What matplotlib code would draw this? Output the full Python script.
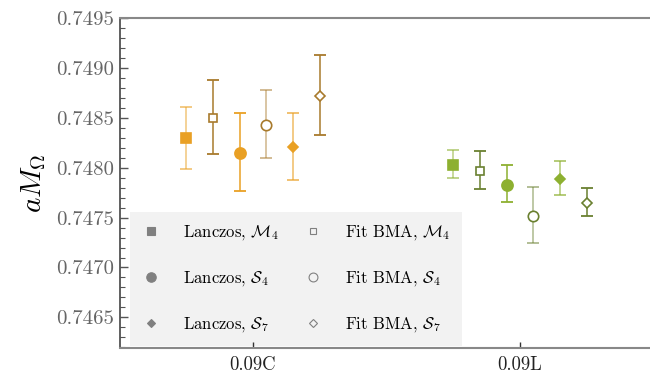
import matplotlib.pyplot as plt
import numpy as np

plt.rcParams['font.family'] = 'serif'
plt.rcParams['font.serif'] = ['cmr10']
plt.rcParams['mathtext.fontset'] = 'cm'
plt.rcParams['axes.formatter.use_mathtext'] = True

# ensembles and methods
ensembles = ['0.09C', '0.09L']
labels = [r'Lanczos, $\mathcal{M}_4$', r'Fit BMA, $\mathcal{M}_4$',
          r'Lanczos, $\mathcal{S}_4$', r'Fit BMA, $\mathcal{S}_4$',
          r'Lanczos, $\mathcal{S}_7$', r'Fit BMA, $\mathcal{S}_7$']

# central values, upper and lower ends of the error bars (per ensemble, per method)
val_C = [0.74830, 0.74850, 0.74815, 0.74843, 0.74821, 0.74872]
hi_C = [0.74861, 0.74888, 0.74855, 0.74878, 0.74855, 0.74913]
lo_C = [0.74799, 0.74814, 0.74777, 0.74810, 0.74788, 0.74833]

val_L = [0.74803, 0.74797, 0.74783, 0.74752, 0.74789, 0.74765]
hi_L = [0.74818, 0.74817, 0.74803, 0.74781, 0.74807, 0.74780]
lo_L = [0.74790, 0.74779, 0.74766, 0.74725, 0.74773, 0.74752]

values = [val_C, val_L]
uppers = [hi_C, hi_L]
lowers = [lo_C, lo_L]

markers = ['s', 's', 'o', 'o', 'D', 'D']
msizes = [6.5, 5.8, 8, 7.5, 5, 5]
filled = [True, False, True, False, True, False]
colors = [['#e9a024', '#a87a2c'], ['#8db030', '#6a8030']]
bar_alpha = [0.6, 1.0, 1.0, 0.55, 0.7, 1.0]

fig = plt.figure(figsize=(6.5, 3.77), dpi=100)
ax = fig.add_axes([0.1846, 0.0765, 0.8154, 0.8745])

offsets = (np.arange(6) - 2.5) * 0.1
for g in range(len(ensembles)):
    for i in range(6):
        c = colors[g][i % 2]
        x = g + offsets[i]
        v = values[g][i]
        yerr = [[v - lowers[g][i]], [uppers[g][i] - v]]
        ax.errorbar([x], [v], yerr=yerr, fmt='none', ecolor=c,
                    elinewidth=1.1, capsize=4.3, capthick=1.3,
                    alpha=bar_alpha[i], zorder=2)
        ax.plot([x], [v], marker=markers[i], ms=msizes[i], linestyle='none',
                color=c, mfc=c if filled[i] else 'white', mec=c,
                mew=1.2, zorder=3)

# legend with grey markers
handles = []
for i in range(6):
    h, = ax.plot([], [], marker=markers[i], linestyle='none',
                 ms=msizes[i] * 0.85, color='#808080',
                 mfc='#808080' if filled[i] else 'none', mec='#808080',
                 mew=0.8)
    handles.append(h)
order = [0, 2, 4, 1, 3, 5]
leg = ax.legend([handles[k] for k in order], [labels[k] for k in order],
                ncol=2, loc='lower left', bbox_to_anchor=(0.015, 0.0),
                borderaxespad=0.15,
                fontsize=12, frameon=True, facecolor='#f2f2f2',
                edgecolor='none', framealpha=1, fancybox=False,
                labelspacing=1.62, columnspacing=1.5, handletextpad=1.35,
                borderpad=0.7, handlelength=1.1)
leg.set_zorder(1)

ax.set_xlim(-0.498, 1.487)
ax.set_ylim(0.74619, 0.7495)
ax.set_xticks([0, 1])
ax.set_xticklabels(ensembles)
ax.set_yticks([0.7465, 0.7470, 0.7475, 0.7480, 0.7485, 0.7490, 0.7495])
ax.set_yticklabels(['0.7465', '0.7470', '0.7475', '0.7480', '0.7485', '0.7490', '0.7495'])
ax.set_yticks(np.arange(0.7462, 0.7495, 0.0001), minor=True)
ax.tick_params(axis='y', which='major', direction='in', length=6, width=1,
               colors='#555555', labelsize=15, labelcolor='#666666', pad=4)
ax.tick_params(axis='y', which='minor', direction='in', length=3.5, width=0.8,
               colors='#555555')
ax.tick_params(axis='x', which='major', direction='in', length=4, width=1,
               colors='#333333', labelsize=13.5, labelcolor='#222222', pad=6)
ax.set_ylabel(r'$aM_\Omega$', fontsize=21, labelpad=6)

ax.spines['right'].set_visible(False)
ax.spines['left'].set_color('#444444')
ax.spines['left'].set_linewidth(1.2)
ax.spines['top'].set_color('#888888')
ax.spines['top'].set_linewidth(1.5)
ax.spines['bottom'].set_color('#888888')
ax.spines['bottom'].set_linewidth(1.5)

fig.savefig('out.png', dpi=100)
